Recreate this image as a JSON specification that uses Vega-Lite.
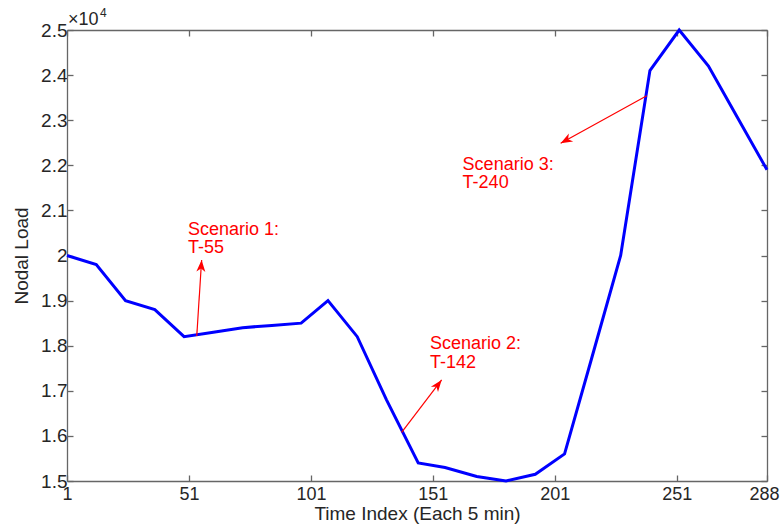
{
  "$schema": "https://vega.github.io/schema/vega-lite/v6.json",
  "width": 700,
  "height": 451,
  "autosize": "none",
  "padding": {"left": 67, "top": 30, "right": 14, "bottom": 48},
  "background": "white",
  "config": {
    "view": {"stroke": null},
    "font": "Liberation Sans",
    "axis": {
      "grid": false,
      "domainColor": "#666666",
      "tickColor": "#666666",
      "labelColor": "#262626",
      "titleColor": "#262626",
      "labelFont": "Liberation Sans",
      "titleFont": "Liberation Sans",
      "titleFontWeight": "normal",
      "labelFontSize": 19,
      "titleFontSize": 19,
      "domainWidth": 1.3,
      "tickWidth": 1.3
    }
  },
  "datasets": {
    "load": [
      {"t": 1, "load": 20000},
      {"t": 13, "load": 19800},
      {"t": 25, "load": 19000},
      {"t": 37, "load": 18800},
      {"t": 49, "load": 18200},
      {"t": 61, "load": 18300},
      {"t": 73, "load": 18400},
      {"t": 85, "load": 18450},
      {"t": 97, "load": 18500},
      {"t": 108, "load": 19000},
      {"t": 120, "load": 18200},
      {"t": 132, "load": 16800},
      {"t": 145, "load": 15400},
      {"t": 156, "load": 15300},
      {"t": 169, "load": 15100},
      {"t": 181, "load": 15000},
      {"t": 193, "load": 15150},
      {"t": 205, "load": 15600},
      {"t": 216, "load": 17700},
      {"t": 228, "load": 20000},
      {"t": 240, "load": 24100},
      {"t": 252, "load": 25000},
      {"t": 264, "load": 24200},
      {"t": 276, "load": 23050},
      {"t": 288, "load": 21900}
    ],
    "arrows": [
      {"t0": 54.2, "l0": 18215, "t1": 56.2, "l1": 19900, "dir": 3.8},
      {"t0": 138.2, "l0": 16080, "t1": 154.6, "l1": 17240, "dir": 37.4},
      {"t0": 238.7, "l0": 23543, "t1": 203.4, "l1": 22488, "dir": 241}
    ],
    "notes": [
      {"t": 50.6, "l": 20455, "label": "Scenario 1:\nT-55"},
      {"t": 149.8, "l": 17920, "label": "Scenario 2:\nT-142"},
      {"t": 163.2, "l": 21896, "label": "Scenario 3:\nT-240"}
    ],
    "corner": [
      {"t": 1, "l": 25000, "base": "×10", "exp": "4"}
    ]
  },
  "layer": [
    {
      "data": {"name": "load"},
      "mark": {"type": "line", "color": "#0000ff", "strokeWidth": 3},
      "encoding": {
        "x": {
          "field": "t", "type": "quantitative",
          "scale": {"domain": [1, 288], "nice": false, "zero": false},
          "axis": {
            "orient": "bottom",
            "values": [1, 51, 101, 151, 201, 251, 288],
            "title": "Time Index (Each 5 min)",
            "tickSize": -6,
            "labelPadding": 10,
            "labelFontSize": 18,
            "titlePadding": 1,
            "labelFlush": false,
            "labelOverlap": false,
            "labelAlign": {"condition": {"test": "datum.value == 288", "value": "right"}, "value": "center"},
            "labelOffset": {"condition": {"test": "datum.value == 288", "value": 12}, "value": 0}
          }
        },
        "y": {
          "field": "load", "type": "quantitative",
          "scale": {"domain": [15000, 25000], "nice": false, "zero": false},
          "axis": {
            "orient": "left",
            "values": [15000, 16000, 17000, 18000, 19000, 20000, 21000, 22000, 23000, 24000, 25000],
            "labelExpr": "format(datum.value / 10000, '~g')",
            "title": "Nodal Load",
            "tickSize": -6,
            "labelPadding": 6,
            "titleX": -36,
            "labelOverlap": false
          }
        }
      }
    },
    {
      "data": {"name": "load"},
      "mark": {"type": "line", "opacity": 0},
      "encoding": {
        "x": {
          "field": "t", "type": "quantitative",
          "axis": {"orient": "top", "values": [1, 51, 101, 151, 201, 251, 288], "labels": false, "title": null, "tickSize": -6}
        },
        "y": {
          "field": "load", "type": "quantitative",
          "axis": {"orient": "right", "values": [15000, 16000, 17000, 18000, 19000, 20000, 21000, 22000, 23000, 24000, 25000], "labels": false, "title": null, "tickSize": -6}
        }
      }
    },
    {
      "data": {"name": "arrows"},
      "mark": {"type": "rule", "color": "#ff0000", "strokeWidth": 1.2},
      "encoding": {
        "x": {"field": "t0", "type": "quantitative", "axis": null},
        "y": {"field": "l0", "type": "quantitative", "axis": null},
        "x2": {"field": "t1"},
        "y2": {"field": "l1"}
      }
    },
    {
      "data": {"name": "arrows"},
      "mark": {"type": "point", "shape": "M0,0 L-0.38,1 L0,0.72 L0.38,1 Z", "filled": true, "color": "#ff0000", "opacity": 1, "size": 560},
      "encoding": {
        "x": {"field": "t1", "type": "quantitative", "axis": null},
        "y": {"field": "l1", "type": "quantitative", "axis": null},
        "angle": {"field": "dir", "type": "quantitative", "scale": null}
      }
    },
    {
      "data": {"name": "notes"},
      "mark": {"type": "text", "align": "left", "baseline": "alphabetic", "lineBreak": "\n", "lineHeight": 18.5, "fontSize": 18, "color": "#ff0000", "font": "Liberation Sans"},
      "encoding": {
        "x": {"field": "t", "type": "quantitative", "axis": null},
        "y": {"field": "l", "type": "quantitative", "axis": null},
        "text": {"field": "label"}
      }
    },
    {
      "data": {"name": "corner"},
      "mark": {"type": "text", "align": "left", "baseline": "alphabetic", "dx": 1, "dy": -5, "fontSize": 18, "color": "#262626", "font": "Liberation Sans"},
      "encoding": {
        "x": {"field": "t", "type": "quantitative", "axis": null},
        "y": {"field": "l", "type": "quantitative", "axis": null},
        "text": {"field": "base"}
      }
    },
    {
      "data": {"name": "corner"},
      "mark": {"type": "text", "align": "left", "baseline": "alphabetic", "dx": 33, "dy": -13, "fontSize": 12, "color": "#262626", "font": "Liberation Sans"},
      "encoding": {
        "x": {"field": "t", "type": "quantitative", "axis": null},
        "y": {"field": "l", "type": "quantitative", "axis": null},
        "text": {"field": "exp"}
      }
    }
  ],
  "resolve": {"axis": {"x": "independent", "y": "independent"}}
}
